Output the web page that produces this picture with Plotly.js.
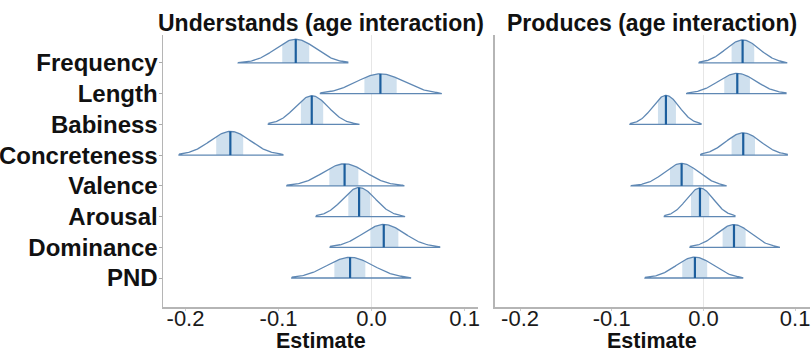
<!DOCTYPE html>
<html>
<head>
<meta charset="utf-8">
<script src="https://cdn.plot.ly/plotly-3.0.1.min.js"></script>
<style>html,body{margin:0;padding:0;background:#fff;}#chart{width:811px;height:349px;}</style>
</head>
<body>
<div id="chart"></div>
<script>
// Categories (top to bottom)
const categories = ['Frequency','Length','Babiness','Concreteness','Valence','Arousal','Dominance','PND'];
const panelTitles = ['Understands (age interaction)', 'Produces (age interaction)'];
const xTickVals = [-0.2, -0.1, 0.0, 0.1];
const xTickText = ['-0.2', '-0.1', '0.0', '0.1'];

// Understands: median, shaded 50% interval, tail extent
const underMedian = [-0.0815, 0.0095, -0.0643, -0.1518, -0.0290, -0.0134, 0.0131, -0.0231];
const underLow    = [-0.0960, -0.0077, -0.0760, -0.1670, -0.0454, -0.0250, -0.0013, -0.0400];
const underHigh   = [-0.0670, 0.0270, -0.0520, -0.1380, -0.0142, -0.0013, 0.0288, -0.0067];
const underMin    = [-0.1435, -0.0550, -0.1110, -0.2070, -0.0912, -0.0597, -0.0446, -0.0858];
const underMax    = [-0.0256, 0.0755, -0.0130, -0.0948, 0.0353, 0.0360, 0.0737, 0.0425];

// Produces
const prodMedian = [0.0427, 0.0369, -0.0409, 0.0434, -0.0238, -0.0038, 0.0333, -0.0093];
const prodLow    = [0.0307, 0.0227, -0.0496, 0.0307, -0.0365, -0.0136, 0.0209, -0.0231];
const prodHigh   = [0.0554, 0.0507, -0.0300, 0.0562, -0.0111, 0.0063, 0.0460, 0.0041];
const prodMin    = [-0.0049, -0.0183, -0.0802, -0.0030, -0.0790, -0.0427, -0.0147, -0.0638];
const prodMax    = [0.0914, 0.0900, -0.0027, 0.0914, 0.0253, 0.0343, 0.0834, 0.0434];

const OUTLINE = '#5f88b4';
const SHADE = '#cfe0ee';
const MEDIAN = '#1c5e9d';
const MAXH = 0.944;

const traces = [];
function addPanel(med, lo, hi, mn, mx, xa, ya) {
  const sds = lo.map((l, i) => (hi[i] - l) / 1.349);
  const minSd = Math.min(...sds);
  const n = categories.length;
  for (let i = 0; i < n; i++) {
    const base = n - 1 - i;
    const sd = sds[i];
    const H = MAXH * minSd / sd;
    const dens = x => base + H * Math.exp(-0.5 * Math.pow((x - med[i]) / sd, 2));
    // shaded interval
    const sx = [], sy = [];
    const N = 30;
    for (let k = 0; k <= N; k++) { const x = lo[i] + (hi[i] - lo[i]) * k / N; sx.push(x); sy.push(dens(x)); }
    sx.push(hi[i], lo[i], lo[i]); sy.push(base, base, dens(lo[i]));
    traces.push({x: sx, y: sy, xaxis: xa, yaxis: ya, type: 'scatter', mode: 'lines', fill: 'toself',
      fillcolor: SHADE, line: {width: 0}, hoverinfo: 'skip', showlegend: false});
    // outline
    const ox = [], oy = [];
    const M = 120;
    for (let k = 0; k <= M; k++) { const x = mn[i] + (mx[i] - mn[i]) * k / M; ox.push(x); oy.push(dens(x)); }
    ox.push(mx[i], mn[i], mn[i]); oy.push(base, base, dens(mn[i]));
    traces.push({x: ox, y: oy, xaxis: xa, yaxis: ya, type: 'scatter', mode: 'lines',
      line: {color: OUTLINE, width: 1.3}, hoverinfo: 'skip', showlegend: false});
    // median line
    traces.push({x: [med[i], med[i]], y: [base, dens(med[i])], xaxis: xa, yaxis: ya, type: 'scatter', mode: 'lines',
      line: {color: MEDIAN, width: 2.2}, hoverinfo: 'skip', showlegend: false});
  }
}
addPanel(underMedian, underLow, underHigh, underMin, underMax, 'x', 'y');
addPanel(prodMedian, prodLow, prodHigh, prodMin, prodMax, 'x2', 'y2');

const FONT = 'Liberation Sans, Arial, Helvetica, sans-serif';
const yVals = categories.map((c, i) => categories.length - 1 - i);

const xBase = {
  tickvals: xTickVals, ticktext: xTickText, showgrid: false,
  zeroline: true, zerolinecolor: '#e6e6e6', zerolinewidth: 1,
  showline: true, linecolor: '#b5b5b5', linewidth: 1.5,
  ticks: 'outside', ticklen: 2, tickcolor: '#cccccc', ticklabelstandoff: -11,
  tickfont: {family: FONT, size: 22, color: '#1a1a1a'}, fixedrange: true
};
const yBase = {
  range: [-0.944, 7.91], showgrid: false, zeroline: false,
  showline: true, linecolor: '#b5b5b5', linewidth: 1.5, fixedrange: true
};

const layout = {
  width: 811, height: 349,
  margin: {l: 163, r: 1, t: 35, b: 42},
  paper_bgcolor: '#ffffff', plot_bgcolor: '#ffffff',
  showlegend: false,
  xaxis: Object.assign({}, xBase, {domain: [0, 0.487], range: [-0.2242, 0.1145], anchor: 'y'}),
  xaxis2: Object.assign({}, xBase, {domain: [0.513, 1], range: [-0.2274, 0.1162], anchor: 'y2'}),
  yaxis: Object.assign({}, yBase, {domain: [0, 1], anchor: 'x', tickvals: yVals, ticktext: categories,
    ticks: 'outside', ticklen: 3, tickcolor: '#aaaaaa', ticklabelstandoff: -4,
    tickfont: {family: FONT, size: 24, color: '#111', weight: 'bold'}}),
  yaxis2: Object.assign({}, yBase, {domain: [0, 1], anchor: 'x2', showticklabels: false, ticks: ''}),
  annotations: [
    {text: panelTitles[0], xref: 'x domain', yref: 'paper', x: 0.5, y: 1, xanchor: 'center', yanchor: 'bottom', yshift: -3,
      showarrow: false, font: {family: FONT, size: 23, color: '#111', weight: 'bold'}},
    {text: panelTitles[1], xref: 'x2 domain', yref: 'paper', x: 0.5, y: 1, xanchor: 'center', yanchor: 'bottom', yshift: -3,
      showarrow: false, font: {family: FONT, size: 23, color: '#111', weight: 'bold'}},
    {text: 'Estimate', xref: 'x domain', yref: 'paper', x: 0.5, y: 0, xanchor: 'center', yanchor: 'top', yshift: -20,
      showarrow: false, font: {family: FONT, size: 21.5, color: '#111', weight: 'bold'}},
    {text: 'Estimate', xref: 'x2 domain', yref: 'paper', x: 0.5, y: 0, xanchor: 'center', yanchor: 'top', yshift: -20,
      showarrow: false, font: {family: FONT, size: 21.5, color: '#111', weight: 'bold'}}
  ]
};

Plotly.newPlot('chart', traces, layout, {staticPlot: true, displayModeBar: false});
</script>
</body>
</html>
